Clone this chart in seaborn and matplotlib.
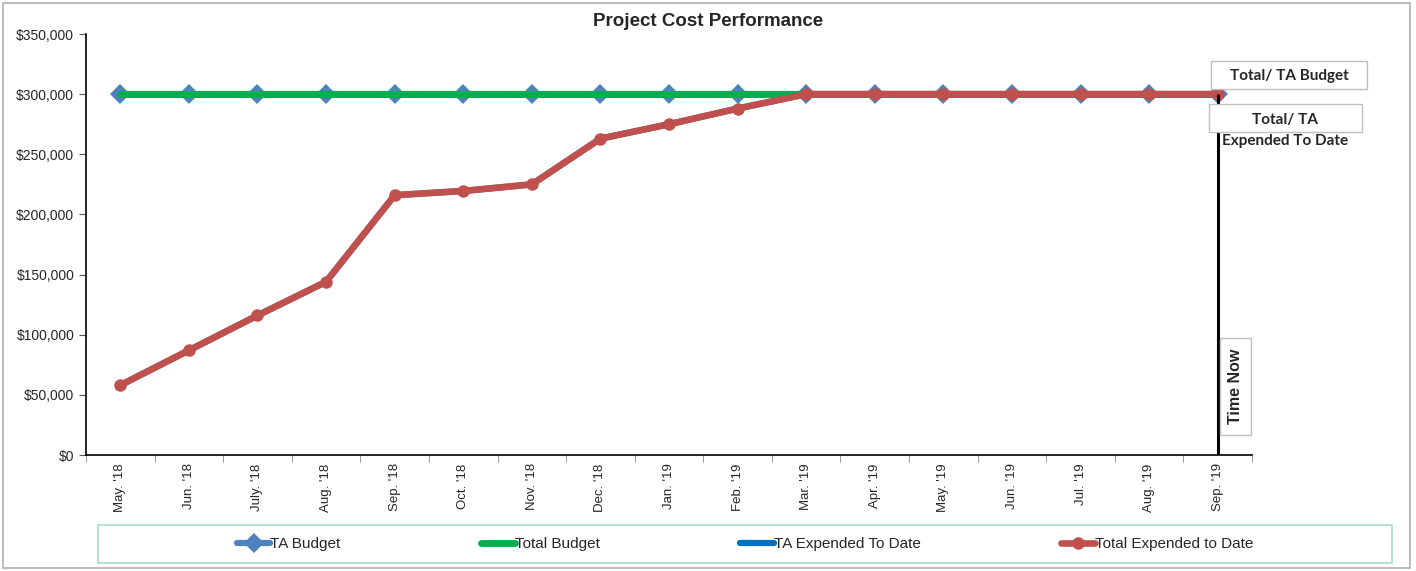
import matplotlib
matplotlib.use("Agg")
import matplotlib.pyplot as plt
import matplotlib.patches as mpatches
from matplotlib.ticker import FuncFormatter, FixedLocator
import numpy as np
import pandas as pd
import seaborn as sns

months = ["May. '18", "Jun. '18", "July. '18", "Aug. '18", "Sep. '18", "Oct. '18",
          "Nov. '18", "Dec. '18", "Jan. '19", "Feb. '19", "Mar. '19", "Apr. '19",
          "May. '19", "Jun. '19", "Jul. '19", "Aug. '19", "Sep. '19"]
ta_budget = [300000] * 17
total_budget = [300000] * 17
ta_expended = [58000, 87000, 116000, 144000, 216000, 219500, 225000, 263000, 275000,
               288000, 300000, 300000, 300000, 300000, 300000, 300000, 300000]
total_expended = [58000, 87000, 116000, 144000, 216000, 219500, 225000, 263000, 275000,
                  288000, 300000, 300000, 300000, 300000, 300000, 300000, 300000]
time_now = "Sep. '19"

df = pd.DataFrame({"month": months, "TA Budget": ta_budget, "Total Budget": total_budget,
                   "TA Expended To Date": ta_expended,
                   "Total Expended to Date": total_expended})

sns.set_style("white")
plt.rcParams['font.family'] = ['Liberation Sans', 'DejaVu Sans']

fig = plt.figure(figsize=(14.16, 5.71), dpi=100)
ax = fig.add_axes([86/1416, 116/571, (1252-86)/1416, (455-34)/571])

sns.lineplot(data=df, x="month", y="TA Budget", ax=ax, color="#4F81BD", lw=4.5,
             marker="D", markersize=10, markeredgewidth=0, label="TA Budget", sort=False)
sns.lineplot(data=df, x="month", y="Total Budget", ax=ax, color="#00B050", lw=5,
             label="Total Budget", sort=False)
sns.lineplot(data=df, x="month", y="TA Expended To Date", ax=ax, color="#0070C0", lw=4.5,
             label="TA Expended To Date", sort=False)
sns.lineplot(data=df, x="month", y="Total Expended to Date", ax=ax, color="#C0504D", lw=4.8,
             marker="o", markersize=9, markeredgewidth=0, label="Total Expended to Date",
             sort=False)

# time now line
tn = months.index(time_now)
ax.vlines(tn, 0, 300000, color="black", lw=2.2, zorder=5)

ax.set_xlim(-0.5, len(months) - 0.5)
ax.set_ylim(0, 350000)
ax.set_yticks(np.arange(0, 350001, 50000))
ax.yaxis.set_major_formatter(FuncFormatter(lambda v, p: "${:,.0f}".format(v)))
ax.set_xticks(range(len(months)))
ax.set_xticklabels(months, rotation=90)
ax.xaxis.set_minor_locator(FixedLocator(np.arange(-0.5, len(months), 1)))
ax.tick_params(axis="x", which="major", length=0, labelsize=9.5, pad=6)
ax.tick_params(axis="x", which="minor", length=5, color="#888888", direction="out", bottom=True)
ax.tick_params(axis="y", length=5, labelsize=10, direction="out", left=True, color="#555555")
ax.set_xlabel("")
ax.set_ylabel("")
for s in ["top", "right"]:
    ax.spines[s].set_visible(False)
for s in ["left", "bottom"]:
    ax.spines[s].set_color("black")
    ax.spines[s].set_linewidth(1.2)

handles, labels = ax.get_legend_handles_labels()
ax.get_legend().remove()
fig.legend(handles, labels, loc="center", bbox_to_anchor=(745/1416, 1 - 544/571),
           ncol=4, frameon=False, fontsize=11, handlelength=2.2, handletextpad=0.0,
           columnspacing=9.2)

fig.suptitle("Project Cost Performance", x=708/1416, y=1 - 21/571, va="center",
             fontsize=13.5, fontweight="bold")


def fbox(x0, y0, x1, y1, ec="#bfbfbf", lw=1.0):
    fig.patches.append(mpatches.Rectangle((x0/1416, 1 - y1/571), (x1-x0)/1416, (y1-y0)/571,
                                          transform=fig.transFigure, fill=True, fc="white",
                                          ec=ec, lw=lw, zorder=10))


# outer border and legend frame
fig.patches.append(mpatches.Rectangle((3/1416, 3/571), 1407/1416, 565/571,
                                      transform=fig.transFigure, fill=False,
                                      ec="#b0b0b0", lw=1.2))
fig.patches.append(mpatches.Rectangle((98/1416, 1 - 563/571), 1294/1416, 38/571,
                                      transform=fig.transFigure, fill=False,
                                      ec="#a8dcc0", lw=1.2))

lab_font = ['Lato', 'DejaVu Sans']
fbox(1211, 61, 1367, 89)
fig.text(1289/1416, 1 - 76/571, "Total/ TA Budget", ha="center", va="center",
         fontsize=11, fontweight="bold", family=lab_font, zorder=11)
fbox(1209, 104, 1362, 132)
fig.text(1285/1416, 1 - 120/571, "Total/ TA", ha="center", va="center",
         fontsize=11, fontweight="bold", family=lab_font, zorder=11)
fig.text(1285/1416, 1 - 141/571, "Expended To Date", ha="center", va="center",
         fontsize=11, fontweight="bold", family=lab_font, zorder=11)
fbox(1220, 338, 1251, 435)
fig.text(1236/1416, 1 - 386/571, "Time Now", ha="center", va="center", rotation=90,
         fontsize=11.5, fontweight="bold", zorder=11)

fig.savefig("out.png", dpi=100)
